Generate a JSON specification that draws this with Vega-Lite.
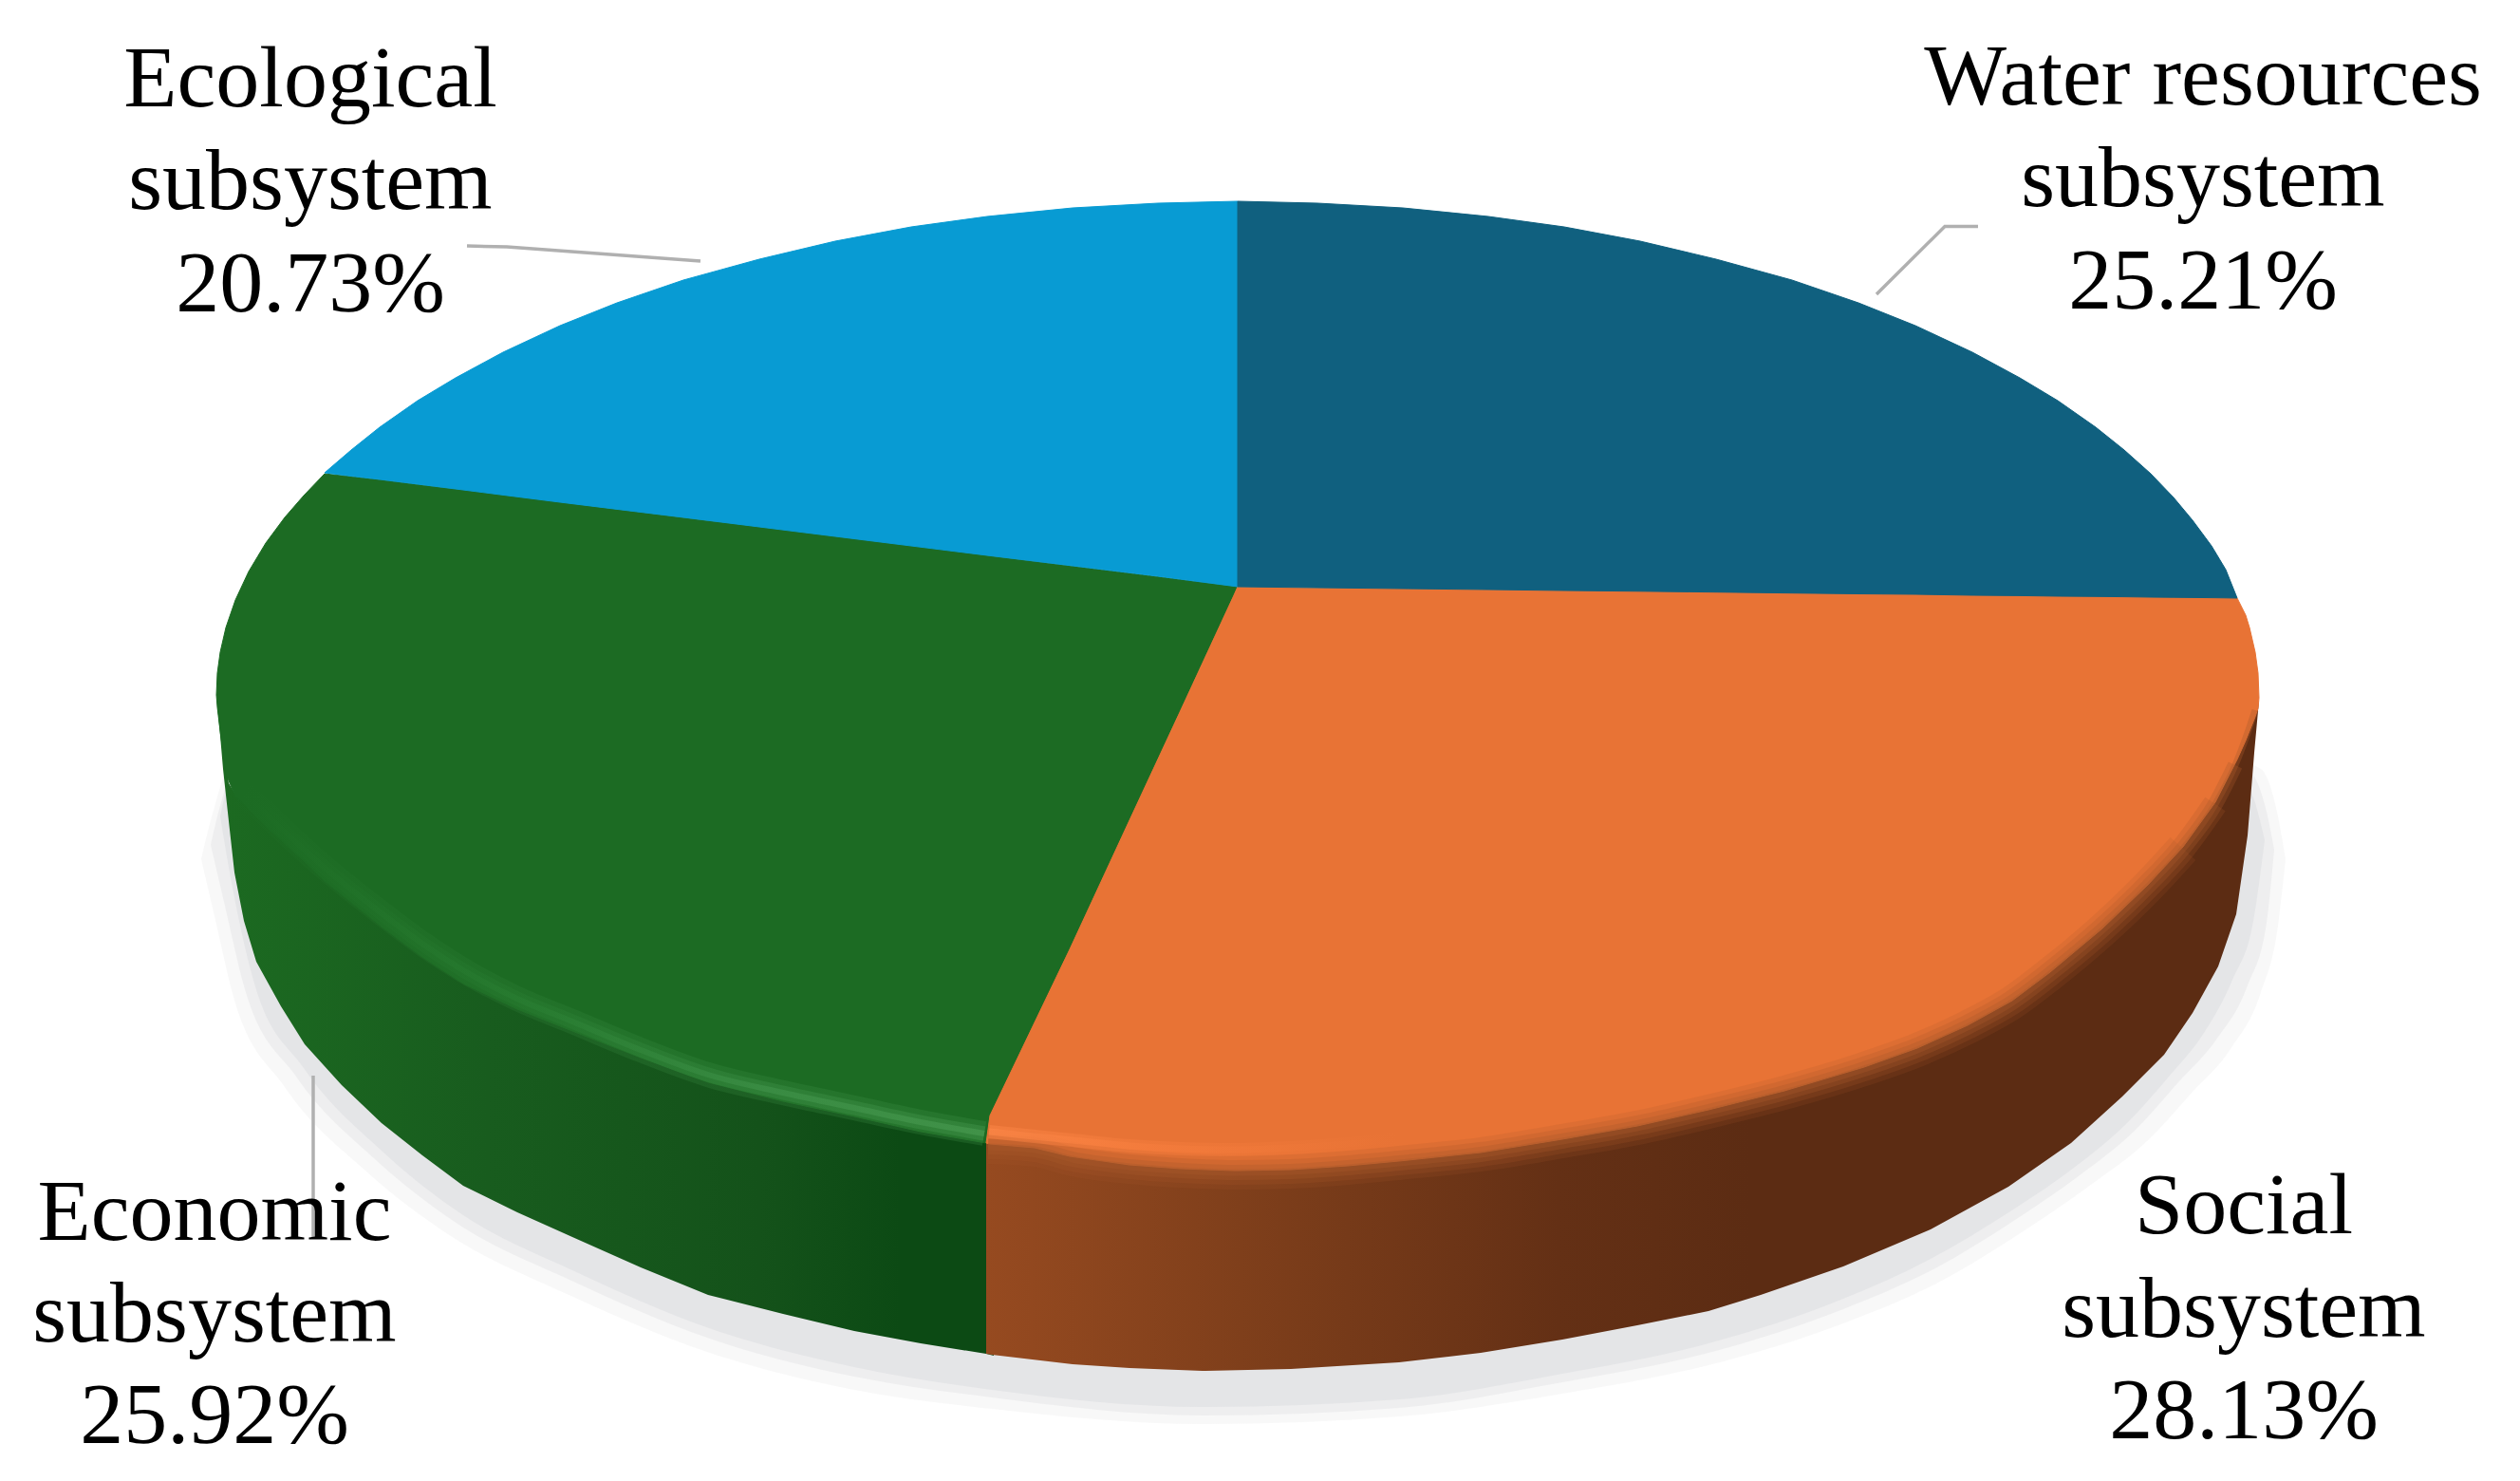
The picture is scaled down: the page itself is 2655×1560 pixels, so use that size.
{
"$schema":"https://vega.github.io/schema/vega-lite/v6.json",
"width":2655,"height":1560,"padding":0,
"autosize":{"type":"fit","contains":"padding"},
"background":"#ffffff",
"config":{"view":{"stroke":null}},
"datasets":{
"shadow":[
{"s":"s3","x":212,"y":905,"y2":905},{"s":"s3","x":226,"y":850,"y2":965},{"s":"s3","x":246,"y":800,"y2":1050},{"s":"s3","x":300,"y":800,"y2":1145},{"s":"s3","x":385,"y":800,"y2":1233},{"s":"s3","x":475,"y":800,"y2":1302},{"s":"s3","x":595,"y":800,"y2":1362},{"s":"s3","x":745,"y":800,"y2":1424},{"s":"s3","x":900,"y":800,"y2":1464},{"s":"s3","x":1045,"y":800,"y2":1484},{"s":"s3","x":1267,"y":800,"y2":1500},{"s":"s3","x":1474,"y":800,"y2":1492},{"s":"s3","x":1646,"y":800,"y2":1468},{"s":"s3","x":1800,"y":800,"y2":1438},{"s":"s3","x":1942,"y":800,"y2":1394},{"s":"s3","x":2040,"y":800,"y2":1352},{"s":"s3","x":2130,"y":800,"y2":1298},{"s":"s3","x":2200,"y":800,"y2":1250},{"s":"s3","x":2262,"y":800,"y2":1202},{"s":"s3","x":2310,"y":800,"y2":1150},{"s":"s3","x":2350,"y":800,"y2":1105},{"s":"s3","x":2382,"y":810,"y2":1045},{"s":"s3","x":2400,"y":860,"y2":975},{"s":"s3","x":2408,"y":905,"y2":905},
{"s":"s2","x":222,"y":890,"y2":890},{"s":"s2","x":236,"y":835,"y2":950},{"s":"s2","x":258,"y":800,"y2":1042},{"s":"s2","x":312,"y":800,"y2":1134},{"s":"s2","x":395,"y":800,"y2":1221},{"s":"s2","x":482,"y":800,"y2":1289},{"s":"s2","x":600,"y":800,"y2":1348},{"s":"s2","x":748,"y":800,"y2":1410},{"s":"s2","x":900,"y":800,"y2":1450},{"s":"s2","x":1045,"y":800,"y2":1472},{"s":"s2","x":1267,"y":800,"y2":1491},{"s":"s2","x":1474,"y":800,"y2":1483},{"s":"s2","x":1646,"y":800,"y2":1456},{"s":"s2","x":1800,"y":800,"y2":1425},{"s":"s2","x":1942,"y":800,"y2":1379},{"s":"s2","x":2037,"y":800,"y2":1337},{"s":"s2","x":2123,"y":800,"y2":1285},{"s":"s2","x":2191,"y":800,"y2":1238},{"s":"s2","x":2249,"y":800,"y2":1191},{"s":"s2","x":2295,"y":800,"y2":1140},{"s":"s2","x":2335,"y":800,"y2":1095},{"s":"s2","x":2368,"y":810,"y2":1038},{"s":"s2","x":2388,"y":855,"y2":972},{"s":"s2","x":2396,"y":895,"y2":895},
{"s":"s1","x":232,"y":860,"y2":860},{"s":"s1","x":245,"y":815,"y2":935},{"s":"s1","x":268,"y":800,"y2":1036},{"s":"s1","x":320,"y":800,"y2":1125},{"s":"s1","x":402,"y":800,"y2":1212},{"s":"s1","x":488,"y":800,"y2":1280},{"s":"s1","x":603,"y":800,"y2":1338},{"s":"s1","x":750,"y":800,"y2":1400},{"s":"s1","x":900,"y":800,"y2":1440},{"s":"s1","x":1045,"y":800,"y2":1464},{"s":"s1","x":1267,"y":800,"y2":1482},{"s":"s1","x":1474,"y":800,"y2":1474},{"s":"s1","x":1646,"y":800,"y2":1447},{"s":"s1","x":1800,"y":800,"y2":1415},{"s":"s1","x":1942,"y":800,"y2":1368},{"s":"s1","x":2034,"y":800,"y2":1326},{"s":"s1","x":2118,"y":800,"y2":1276},{"s":"s1","x":2185,"y":800,"y2":1230},{"s":"s1","x":2240,"y":800,"y2":1184},{"s":"s1","x":2285,"y":800,"y2":1134},{"s":"s1","x":2322,"y":800,"y2":1088},{"s":"s1","x":2352,"y":810,"y2":1032},{"s":"s1","x":2374,"y":840,"y2":970},{"s":"s1","x":2386,"y":885,"y2":885}
],
"sideGreen":[
{"x":228,"y":732,"y2":732},{"x":232,"y":765,"y2":775},{"x":235,"y":785,"y2":810},{"x":241,"y":825,"y2":865},{"x":247,"y":835,"y2":919},{"x":257,"y":845,"y2":970},{"x":270,"y":855,"y2":1013},{"x":296,"y":880,"y2":1060},{"x":321,"y":903,"y2":1100},{"x":360,"y":937,"y2":1143},{"x":402,"y":970,"y2":1183},{"x":445,"y":1000,"y2":1217},{"x":488,"y":1030,"y2":1249},{"x":545,"y":1057,"y2":1277},{"x":603,"y":1080,"y2":1303},{"x":675,"y":1108,"y2":1335},{"x":746,"y":1134,"y2":1364},{"x":825,"y":1154,"y2":1384},{"x":900,"y":1170,"y2":1402},{"x":970,"y":1184,"y2":1415},{"x":1039,"y":1194,"y2":1426},{"x":1047,"y":1198,"y2":1428}
],
"sideOrange":[
{"x":1039,"y":1195,"y2":1426},{"x":1045,"y":1195,"y2":1427},{"x":1130,"y":1212,"y2":1437},{"x":1190,"y":1220,"y2":1441},{"x":1267,"y":1225,"y2":1444},{"x":1360,"y":1225,"y2":1442},{"x":1474,"y":1218,"y2":1435},{"x":1560,"y":1208,"y2":1425},{"x":1646,"y":1194,"y2":1411},{"x":1725,"y":1180,"y2":1396},{"x":1800,"y":1163,"y2":1381},{"x":1855,"y":1148,"y2":1364},{"x":1942,"y":1122,"y2":1334},{"x":2034,"y":1092,"y2":1295},{"x":2116,"y":1050,"y2":1250},{"x":2182,"y":1000,"y2":1204},{"x":2236,"y":950,"y2":1155},{"x":2280,"y":905,"y2":1111},{"x":2310,"y":872,"y2":1067},{"x":2337,"y":838,"y2":1018},{"x":2356,"y":800,"y2":963},{"x":2368,"y":772,"y2":880},{"x":2375,"y":755,"y2":793},{"x":2380,"y":738,"y2":738}
],
"slices":[
{"part":"Economic","x":228,"y":732,"y2":732},{"part":"Economic","x":229,"y":709,"y2":745},{"part":"Economic","x":232,"y":687,"y2":770},{"part":"Economic","x":238,"y":661,"y2":815},{"part":"Economic","x":248,"y":632,"y2":839},{"part":"Economic","x":262,"y":602,"y2":852},{"part":"Economic","x":280,"y":572,"y2":870},{"part":"Economic","x":300,"y":545,"y2":889},{"part":"Economic","x":320,"y":522,"y2":907},{"part":"Economic","x":342,"y":499,"y2":928},{"part":"Economic","x":402,"y":505.5,"y2":976},{"part":"Economic","x":445,"y":511,"y2":1008},{"part":"Economic","x":488,"y":516,"y2":1036},{"part":"Economic","x":545,"y":523,"y2":1063},{"part":"Economic","x":603,"y":530.5,"y2":1086},{"part":"Economic","x":675,"y":539.5,"y2":1114},{"part":"Economic","x":746,"y":548.4,"y2":1140},{"part":"Economic","x":825,"y":558,"y2":1160},{"part":"Economic","x":900,"y":567.6,"y2":1176},{"part":"Economic","x":970,"y":576,"y2":1192},{"part":"Economic","x":1039,"y":585,"y2":1204},{"part":"Economic","x":1043,"y":585.4,"y2":1175},{"part":"Economic","x":1127,"y":596,"y2":1000},{"part":"Economic","x":1304,"y":618,"y2":618},
{"part":"Social","x":1039,"y":1204,"y2":1204},{"part":"Social","x":1043,"y":1175,"y2":1205},{"part":"Social","x":1090,"y":1077,"y2":1209},{"part":"Social","x":1127,"y":1000,"y2":1218},{"part":"Social","x":1190,"y":864,"y2":1227},{"part":"Social","x":1244,"y":748,"y2":1231},{"part":"Social","x":1300,"y":627,"y2":1233},{"part":"Social","x":1304,"y":618,"y2":1233},{"part":"Social","x":1360,"y":619,"y2":1232},{"part":"Social","x":1420,"y":619.5,"y2":1228},{"part":"Social","x":1474,"y":620,"y2":1223},{"part":"Social","x":1560,"y":621,"y2":1214},{"part":"Social","x":1646,"y":621.5,"y2":1200},{"part":"Social","x":1725,"y":622,"y2":1186},{"part":"Social","x":1800,"y":622.5,"y2":1169},{"part":"Social","x":1880,"y":623,"y2":1149},{"part":"Social","x":1964,"y":624,"y2":1124},{"part":"Social","x":2020,"y":624.5,"y2":1104},{"part":"Social","x":2073,"y":625,"y2":1080},{"part":"Social","x":2120,"y":625.5,"y2":1054},{"part":"Social","x":2160,"y":626,"y2":1024},{"part":"Social","x":2215,"y":627,"y2":978},{"part":"Social","x":2263,"y":628,"y2":932},{"part":"Social","x":2300,"y":628.5,"y2":892},{"part":"Social","x":2334,"y":629,"y2":845},{"part":"Social","x":2357,"y":630,"y2":800},{"part":"Social","x":2366,"y":648,"y2":780},{"part":"Social","x":2370,"y":661,"y2":770},{"part":"Social","x":2376,"y":687,"y2":755},{"part":"Social","x":2379,"y":709,"y2":746},{"part":"Social","x":2380,"y":735,"y2":735},
{"part":"Ecological","x":342,"y":498,"y2":498},{"part":"Ecological","x":370,"y":474,"y2":501.5},{"part":"Ecological","x":400,"y":450,"y2":505},{"part":"Ecological","x":440,"y":422,"y2":510},{"part":"Ecological","x":480,"y":398,"y2":515},{"part":"Ecological","x":530,"y":371,"y2":521.4},{"part":"Ecological","x":590,"y":343,"y2":529},{"part":"Ecological","x":650,"y":319,"y2":536.4},{"part":"Ecological","x":720,"y":295,"y2":545},{"part":"Ecological","x":800,"y":273,"y2":555},{"part":"Ecological","x":880,"y":254,"y2":565},{"part":"Ecological","x":960,"y":239,"y2":575},{"part":"Ecological","x":1040,"y":228,"y2":585},{"part":"Ecological","x":1130,"y":219,"y2":596},{"part":"Ecological","x":1220,"y":214,"y2":607},{"part":"Ecological","x":1304,"y":212,"y2":618},
{"part":"Water","x":1304,"y":212,"y2":618},{"part":"Water","x":1388,"y":214,"y2":619},{"part":"Water","x":1478,"y":219,"y2":620},{"part":"Water","x":1568,"y":228,"y2":621},{"part":"Water","x":1648,"y":239,"y2":622},{"part":"Water","x":1728,"y":254,"y2":622.8},{"part":"Water","x":1808,"y":273,"y2":623.7},{"part":"Water","x":1888,"y":295,"y2":624.7},{"part":"Water","x":1958,"y":319,"y2":625.5},{"part":"Water","x":2018,"y":343,"y2":626},{"part":"Water","x":2078,"y":371,"y2":627},{"part":"Water","x":2128,"y":398,"y2":627.4},{"part":"Water","x":2168,"y":422,"y2":628},{"part":"Water","x":2208,"y":450,"y2":628.3},{"part":"Water","x":2238,"y":474,"y2":628.6},{"part":"Water","x":2266,"y":499,"y2":629},{"part":"Water","x":2290,"y":524,"y2":629.2},{"part":"Water","x":2310,"y":548,"y2":629.4},{"part":"Water","x":2330,"y":575,"y2":629.6},{"part":"Water","x":2345,"y":600,"y2":629.8},{"part":"Water","x":2357,"y":630,"y2":630}
],
"rimOrange":[
{"x":1041,"y":1208},{"x":1090,"y":1211},{"x":1130,"y":1221},{"x":1190,"y":1229},{"x":1244,"y":1233},{"x":1300,"y":1235},{"x":1360,"y":1234},{"x":1420,"y":1230},{"x":1474,"y":1225},{"x":1560,"y":1216},{"x":1646,"y":1202},{"x":1725,"y":1188},{"x":1800,"y":1171},{"x":1880,"y":1151},{"x":1964,"y":1126},{"x":2020,"y":1106},{"x":2073,"y":1082},{"x":2120,"y":1056},{"x":2160,"y":1026},{"x":2215,"y":980},{"x":2263,"y":934},{"x":2300,"y":894},{"x":2334,"y":847},{"x":2355,"y":806},{"x":2368,"y":772},{"x":2376,"y":748}
],
"hiOrange":[
{"x":1042,"y":1192},{"x":1090,"y":1197},{"x":1130,"y":1201},{"x":1190,"y":1207},{"x":1244,"y":1210},{"x":1300,"y":1211},{"x":1360,"y":1209},{"x":1420,"y":1205},{"x":1474,"y":1200}
],
"hiGreen":[
{"x":255,"y":836},{"x":270,"y":848},{"x":304,"y":880},{"x":342,"y":914},{"x":402,"y":962},{"x":445,"y":994},{"x":488,"y":1022},{"x":545,"y":1052},{"x":603,"y":1076},{"x":675,"y":1106},{"x":746,"y":1132},{"x":825,"y":1151},{"x":900,"y":1167},{"x":970,"y":1182},{"x":1037,"y":1194}
],
"leaders":[
{"name":"Ecological","x":492,"y":259},{"name":"Ecological","x":534,"y":260},{"name":"Ecological","x":738,"y":275},
{"name":"Water","x":1977,"y":310},{"name":"Water","x":2049,"y":238.5},{"name":"Water","x":2084,"y":238.5},
{"name":"Economic","x":330,"y":1133},{"name":"Economic","x":330,"y":1303}
],
"labels":[
{"x":327,"y":112,"t":"Ecological"},{"x":327,"y":220,"t":"subsystem"},{"x":327,"y":328,"t":"20.73%"},
{"x":2321,"y":110,"t":"Water resources"},{"x":2321,"y":217,"t":"subsystem"},{"x":2321,"y":325,"t":"25.21%"},
{"x":226,"y":1306,"t":"Economic"},{"x":226,"y":1413,"t":"subsystem"},{"x":226,"y":1520,"t":"25.92%"},
{"x":2364,"y":1299,"t":"Social"},{"x":2364,"y":1408,"t":"subsystem"},{"x":2364,"y":1515,"t":"28.13%"}
]
},
"encoding":{
"x":{"field":"x","type":"quantitative","axis":null,"scale":{"domain":[0,2655],"nice":false,"zero":false}},
"y":{"field":"y","type":"quantitative","axis":null,"scale":{"domain":[1560,0],"nice":false,"zero":false}}
},
"layer":[
{"data":{"name":"shadow"},"transform":[{"filter":"datum.s=='s3'"}],"mark":{"type":"area","interpolate":"monotone","color":"#e2e3e5","opacity":0.25},"encoding":{"y2":{"field":"y2"}}},
{"data":{"name":"shadow"},"transform":[{"filter":"datum.s=='s2'"}],"mark":{"type":"area","interpolate":"monotone","color":"#e2e3e5","opacity":0.45},"encoding":{"y2":{"field":"y2"}}},
{"data":{"name":"shadow"},"transform":[{"filter":"datum.s=='s1'"}],"mark":{"type":"area","interpolate":"monotone","color":"#e2e3e5","opacity":0.85},"encoding":{"y2":{"field":"y2"}}},
{"data":{"name":"sideGreen"},"mark":{"type":"area","color":{"gradient":"linear","x1":0,"y1":0,"x2":1,"y2":0,"stops":[{"offset":0,"color":"#1c6a21"},{"offset":0.35,"color":"#185c1e"},{"offset":0.7,"color":"#14521a"},{"offset":0.88,"color":"#0c4a14"},{"offset":1,"color":"#0c4a14"}]}},"encoding":{"y2":{"field":"y2"}}},
{"data":{"name":"sideOrange"},"mark":{"type":"area","color":{"gradient":"linear","x1":0,"y1":0,"x2":1,"y2":0,"stops":[{"offset":0,"color":"#964a20"},{"offset":0.2,"color":"#7f3f1b"},{"offset":0.45,"color":"#643015"},{"offset":0.6,"color":"#5c2c13"},{"offset":1,"color":"#5c2c13"}]}},"encoding":{"y2":{"field":"y2"}}},
{"data":{"name":"slices"},"mark":{"type":"area","strokeWidth":1},"encoding":{"y2":{"field":"y2"},
"color":{"field":"part","type":"nominal","legend":null,"scale":{"domain":["Water","Social","Economic","Ecological"],"range":["#10607f","#e87335","#1c6b23","#089bd3"]}},
"stroke":{"field":"part","type":"nominal","legend":null,"scale":{"domain":["Water","Social","Economic","Ecological"],"range":["#10607f","#e87335","#1c6b23","#089bd3"]}}}},
{"data":{"name":"rimOrange"},"transform":[{"filter":"datum.x<=2300"}],"mark":{"type":"line","interpolate":"monotone","color":"#a8582b","strokeWidth":36,"opacity":0.16}},
{"data":{"name":"rimOrange"},"transform":[{"filter":"datum.x<=2334"}],"mark":{"type":"line","interpolate":"monotone","color":"#a8582b","strokeWidth":26,"opacity":0.22}},
{"data":{"name":"rimOrange"},"transform":[{"filter":"datum.x<=2355"}],"mark":{"type":"line","interpolate":"monotone","color":"#a8582b","strokeWidth":16,"opacity":0.3}},
{"data":{"name":"rimOrange"},"mark":{"type":"line","interpolate":"monotone","color":"#a8582b","strokeWidth":7,"opacity":0.35}},
{"data":{"name":"hiOrange"},"mark":{"type":"line","interpolate":"monotone","strokeWidth":14,"opacity":0.45,"stroke":{"gradient":"linear","x1":0,"y1":0,"x2":1,"y2":0,"stops":[{"offset":0,"color":"#ff8848"},{"offset":0.4,"color":"#f67d3d"},{"offset":1,"color":"#e87335"}]}}},
{"data":{"name":"hiOrange"},"mark":{"type":"line","interpolate":"monotone","strokeWidth":7,"opacity":0.6,"stroke":{"gradient":"linear","x1":0,"y1":0,"x2":1,"y2":0,"stops":[{"offset":0,"color":"#ff8848"},{"offset":0.4,"color":"#f67d3d"},{"offset":1,"color":"#e87335"}]}}},
{"data":{"name":"hiGreen"},"mark":{"type":"line","interpolate":"monotone","strokeWidth":26,"opacity":0.22,"stroke":{"gradient":"linear","x1":0,"y1":0,"x2":1,"y2":0,"stops":[{"offset":0,"color":"#1c6b23"},{"offset":0.5,"color":"#3c8f45"},{"offset":1,"color":"#4a9c52"}]}}},
{"data":{"name":"hiGreen"},"mark":{"type":"line","interpolate":"monotone","strokeWidth":15,"opacity":0.35,"stroke":{"gradient":"linear","x1":0,"y1":0,"x2":1,"y2":0,"stops":[{"offset":0,"color":"#1c6b23"},{"offset":0.4,"color":"#2a7f33"},{"offset":0.7,"color":"#40934a"},{"offset":1,"color":"#4a9c52"}]}}},
{"data":{"name":"hiGreen"},"mark":{"type":"line","interpolate":"monotone","strokeWidth":6,"opacity":0.6,"stroke":{"gradient":"linear","x1":0,"y1":0,"x2":1,"y2":0,"stops":[{"offset":0,"color":"#1c6b23"},{"offset":0.4,"color":"#2a7f33"},{"offset":0.7,"color":"#40934a"},{"offset":1,"color":"#4a9c52"}]}}},
{"data":{"name":"leaders"},"mark":{"type":"line","color":"#b0b0b0","strokeWidth":3.5},"encoding":{"detail":{"field":"name"}}},
{"data":{"name":"labels"},"mark":{"type":"text","font":"Liberation Serif","fontSize":92,"color":"#000000","align":"center","baseline":"alphabetic"},"encoding":{"text":{"field":"t"}}}
]
}
